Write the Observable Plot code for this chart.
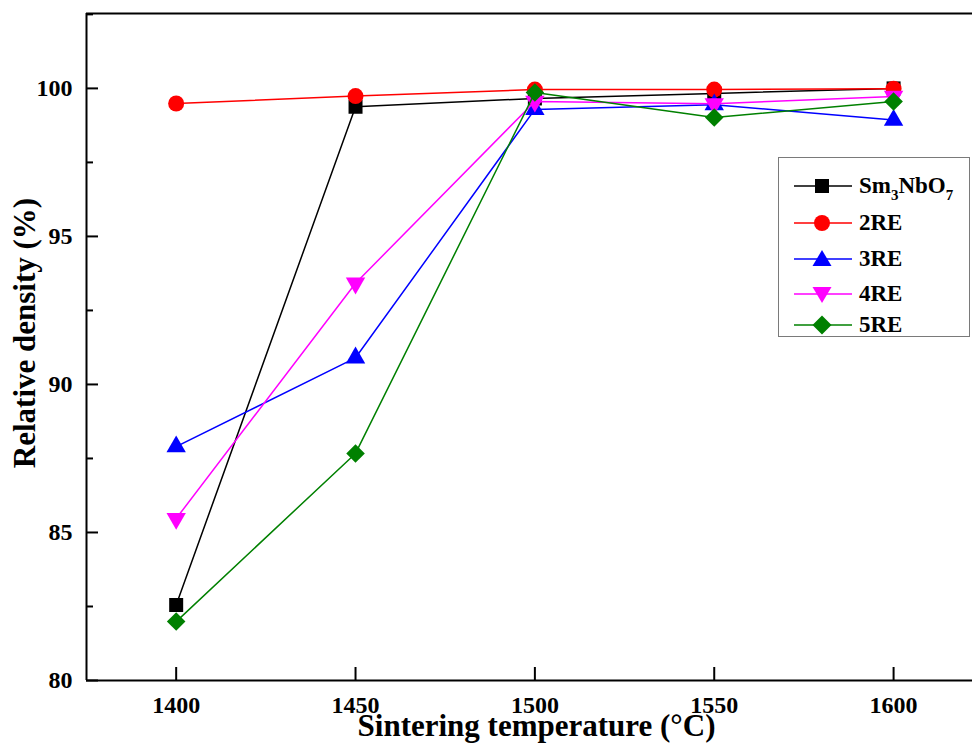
<!DOCTYPE html>
<html>
<head>
<meta charset="utf-8">
<script src="https://cdn.jsdelivr.net/npm/d3@7"></script>
<script src="https://cdn.jsdelivr.net/npm/@observablehq/plot@0.6"></script>
<style>
  html, body { margin: 0; padding: 0; background: #fff; }
  #wrap { position: relative; width: 972px; height: 747px; overflow: hidden; font-family: "Liberation Serif", "Times New Roman", serif; font-weight: bold; }
  #legend { position: absolute; left: 778px; top: 157px; width: 190px; height: 178px; border: 1.5px solid #7a7a7a; background: #fff; }
  .entry { position: absolute; left: 14px; height: 24px; display: flex; align-items: center; font-size: 23px; color: #000; }
  .entry svg { margin-right: 6px; }
  sub { font-size: 15px; vertical-align: -7px; line-height: 0; }
</style>
</head>
<body>
<div id="wrap"><div id="chart"></div><div id="legend"></div></div>
<script>
const temps = [1400, 1450, 1500, 1550, 1600];
const seriesNames = ["Sm3NbO7", "2RE", "3RE", "4RE", "5RE"];
const smNbO = [82.55, 99.38, 99.66, 99.83, 100.0];
const re2 = [99.49, 99.74, 99.96, 99.96, 99.99];
const re3 = [87.9, 90.9, 99.29, 99.45, 98.93];
const re4 = [85.47, 93.42, 99.56, 99.48, 99.73];
const re5 = [81.99, 87.67, 99.86, 99.02, 99.56];
const yMajor = [80, 85, 90, 95, 100];
const yMinor = [82.5, 87.5, 92.5, 97.5, 102.5];

const colors = ["#000000", "#ff0000", "#0000ff", "#ff00ff", "#008000"];
const symbols = ["square", "circle", "triangle", "triangle", "square"];
const rotates = [0, 0, 0, 180, 45];
const radii = [7.9, 8, 7.2, 7.2, 7.4];
const allValues = [smNbO, re2, re3, re4, re5];

const rows = allValues.map((vals, i) => temps.map((t, j) => ({t, v: vals[j], s: seriesNames[i]})));

const marks = [];
rows.forEach((data, i) => {
  marks.push(Plot.line(data, {x: "t", y: "v", stroke: colors[i], strokeWidth: 1.5}));
  marks.push(Plot.dot(data, {x: "t", y: "v", fill: colors[i], stroke: "none", symbol: symbols[i], r: radii[i], rotate: rotates[i]}));
});

const chart = Plot.plot({
  width: 972,
  height: 747,
  marginLeft: 86,
  marginRight: 0,
  marginTop: 13,
  marginBottom: 67,
  style: {fontFamily: "'Liberation Serif', 'Times New Roman', serif", fontWeight: "bold", fontSize: "24px", color: "#000", background: "#fff", overflow: "visible"},
  x: {domain: [1375, 1622], label: null},
  y: {domain: [80, 102.53], label: null},
  marks: [
    ...marks,
    Plot.axisX({ticks: temps, tickSize: 0, tickPadding: 15, tickFormat: d => String(d), label: null, fontSize: 24}),
    Plot.axisX({ticks: temps, tickSize: -13, strokeWidth: 2, tickFormat: () => "", label: null}),
    Plot.axisY({ticks: yMajor, tickSize: 0, tickPadding: 14, tickFormat: d => String(d), label: null, fontSize: 24}),
    Plot.axisY({ticks: yMajor, tickSize: -12, strokeWidth: 2, tickFormat: () => "", label: null}),
    Plot.axisY({ticks: yMinor, tickSize: -7, strokeWidth: 2, tickFormat: () => "", label: null}),
    Plot.ruleX([1375], {stroke: "#000", strokeWidth: 2}),
    Plot.ruleY([80], {stroke: "#000", strokeWidth: 2}),
    Plot.ruleY([102.53], {stroke: "#000", strokeWidth: 2}),
    Plot.text(["Sintering temperature (°C)"], {frameAnchor: "bottom", textAnchor: "middle", lineAnchor: "middle", dx: 7, dy: 46, fontSize: 31, fontWeight: "bold", fill: "#000"}),
    Plot.text(["Relative density (%)"], {frameAnchor: "left", textAnchor: "middle", lineAnchor: "middle", rotate: -90, dx: -61, dy: -14, fontSize: 31, fontWeight: "bold", fill: "#000"})
  ]
});
document.getElementById("chart").appendChild(chart);

// legend
const legend = document.getElementById("legend");
const tops = [16, 53, 89, 124, 155];
const labelsHtml = ["Sm<sub>3</sub>NbO<sub>7</sub>", "2RE", "3RE", "4RE", "5RE"];
function symbolPath(i) {
  const cx = 29, cy = 12;
  if (i === 0) return `<rect x="${cx-7}" y="${cy-7}" width="14" height="14" fill="${colors[i]}"/>`;
  if (i === 1) return `<circle cx="${cx}" cy="${cy}" r="8" fill="${colors[i]}"/>`;
  if (i === 2) return `<path d="M${cx},${cy-9}L${cx+9.5},${cy+7}L${cx-9.5},${cy+7}Z" fill="${colors[i]}"/>`;
  if (i === 3) return `<path d="M${cx},${cy+9}L${cx+9.5},${cy-7}L${cx-9.5},${cy-7}Z" fill="${colors[i]}"/>`;
  return `<path d="M${cx},${cy-9.5}L${cx+9.5},${cy}L${cx},${cy+9.5}L${cx-9.5},${cy}Z" fill="${colors[i]}"/>`;
}
seriesNames.forEach((n, i) => {
  const e = document.createElement("div");
  e.className = "entry";
  e.style.top = tops[i] + "px";
  e.innerHTML = `<svg width="60" height="24"><line x1="1" x2="59" y1="12" y2="12" stroke="${colors[i]}" stroke-width="1.5"/>${symbolPath(i)}</svg><span>${labelsHtml[i]}</span>`;
  legend.appendChild(e);
});
</script>
</body>
</html>
